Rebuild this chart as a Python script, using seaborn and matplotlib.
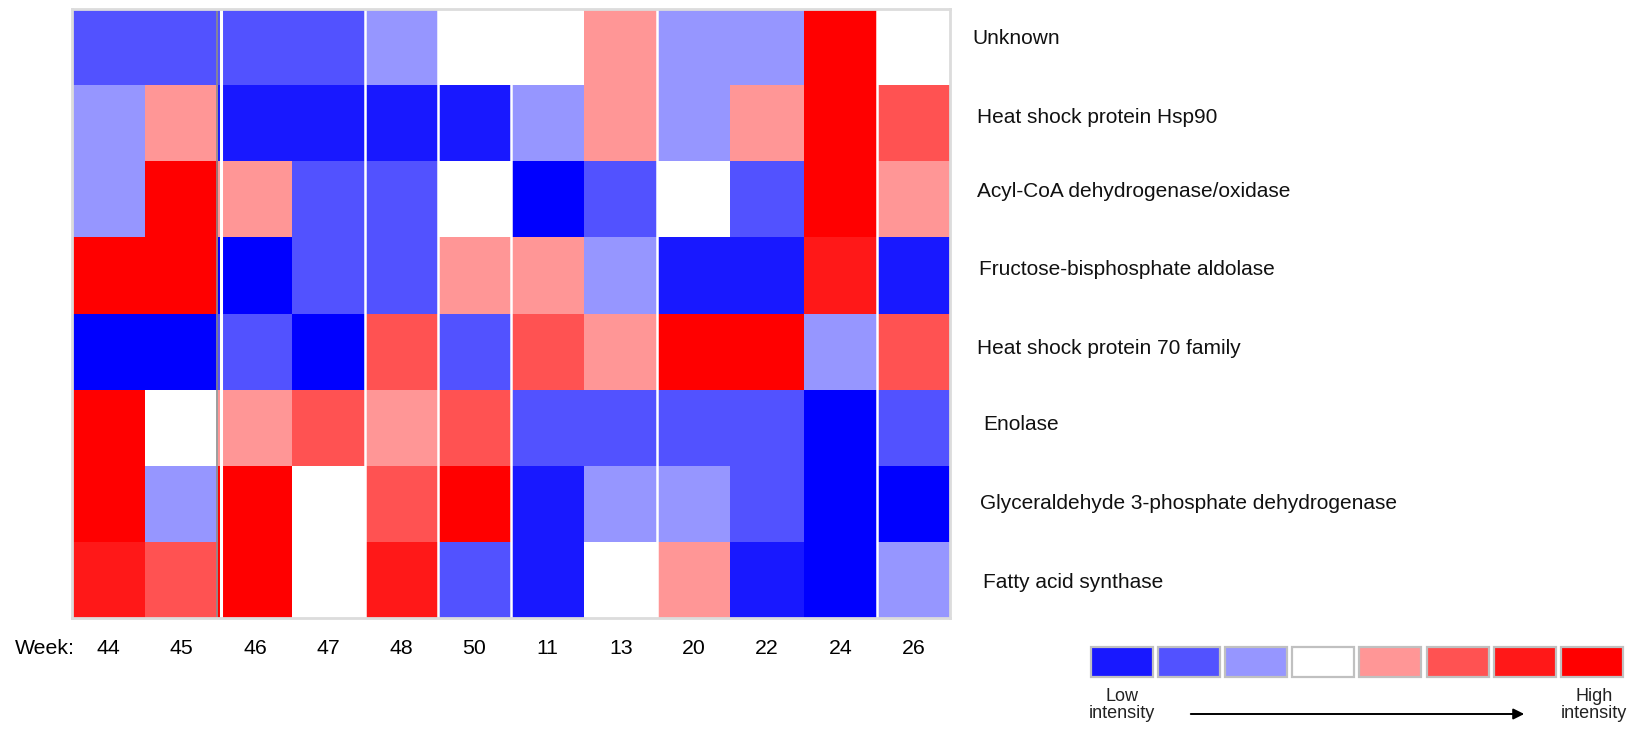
import numpy as np
import pandas as pd
import matplotlib
matplotlib.use("Agg")
import matplotlib.pyplot as plt
from matplotlib.colors import ListedColormap, BoundaryNorm
from matplotlib.patches import Rectangle, FancyArrowPatch
import seaborn as sns

# ---- data -------------------------------------------------------------
weeks = ["44", "45", "46", "47", "48", "50", "11", "13", "20", "22", "24", "26"]
proteins = [
    "Unknown",
    "Heat shock protein Hsp90",
    "Acyl-CoA dehydrogenase/oxidase",
    "Fructose-bisphosphate aldolase",
    "Heat shock protein 70 family",
    "Enolase",
    "Glyceraldehyde 3-phosphate dehydrogenase",
    "Fatty acid synthase",
]
# intensity level per protein (row) and sampling week (column), -4 (lowest) .. 4 (highest)
unknown  = [-2, -2, -2, -2, -1,  0,  0,  1, -1, -1,  4,  0]
hsp90    = [-1,  1, -3, -3, -3, -3, -1,  1, -1,  1,  4,  2]
acyl_coa = [-1,  4,  1, -2, -2,  0, -4, -2,  0, -2,  4,  1]
fba      = [ 4,  4, -4, -2, -2,  1,  1, -1, -3, -3,  3, -3]
hsp70    = [-4, -4, -2, -4,  2, -2,  2,  1,  4,  4, -1,  2]
enolase  = [ 4,  0,  1,  2,  1,  2, -2, -2, -2, -2, -4, -2]
gapdh    = [ 4, -1,  4,  0,  2,  4, -3, -1, -1, -2, -4, -4]
fas      = [ 3,  2,  4,  0,  3, -2, -3,  0,  1, -3, -4, -1]

levels = [-4, -3, -2, -1, 0, 1, 2, 3, 4]
level_colors = ["#0000FF", "#1818FF", "#5252FF", "#9696FF", "#FFFFFF",
                "#FF9696", "#FF5252", "#FF1818", "#FF0000"]
legend_levels = [-3, -2, -1, 0, 1, 2, 3, 4]
group_breaks = [2, 4, 5, 6, 8, 11]

df = pd.DataFrame([unknown, hsp90, acyl_coa, fba, hsp70, enolase, gapdh, fas],
                  index=proteins, columns=weeks)

# ---- figure ------------------------------------------------------------
W, H = 1639, 730
fig = plt.figure(figsize=(W / 100, H / 100), dpi=100)
plt.rcParams["font.family"] = ["Liberation Sans", "DejaVu Sans"]

def fx(px):
    return px / W

def fy(py):
    return 1 - py / H

hm_left, hm_right, hm_top, hm_bottom = 72, 950, 9, 618
ax = fig.add_axes([fx(hm_left), fy(hm_bottom), fx(hm_right - hm_left),
                   (hm_bottom - hm_top) / H])

cmap = ListedColormap(level_colors)
norm = BoundaryNorm(np.arange(-4.5, 5.5, 1.0), cmap.N)
sns.heatmap(df, ax=ax, cmap=cmap, norm=norm, cbar=False,
            xticklabels=False, yticklabels=False)

# white separators between sampling groups
for b in group_breaks:
    if b == 2:
        ax.axvline(b - 0.02, color="#8c8c8c", lw=1.2)
        ax.axvline(b + 0.04, color="white", lw=2.2)
    else:
        ax.axvline(b, color="white", lw=1.8)

for s in ax.spines.values():
    s.set_visible(True)
    s.set_color("#dcdcdc")
    s.set_linewidth(2)

# protein names on the right
label_x = [972, 977, 977, 979, 977, 983, 980, 983]
label_dy = [-9, -6, -8, -6, -3, -3, 0, 3]
row_h = (hm_bottom - hm_top) / len(proteins)
for i, name in enumerate(proteins):
    cy = hm_top + row_h * (i + 0.5) + label_dy[i]
    fig.text(fx(label_x[i]), fy(cy), name, ha="left", va="center",
             fontsize=15, color="#111111")

# week labels under columns
col_w = (hm_right - hm_left) / len(weeks)
fig.text(fx(15), fy(649), "Week:", ha="left", va="center", fontsize=15.3)
for j, w in enumerate(weeks):
    cx = hm_left + col_w * (j + 0.5)
    fig.text(fx(cx), fy(649), w, ha="center", va="center", fontsize=15.3)

# intensity key
sw_x0, sw_w, sw_step, sw_y, sw_h = 1091, 62, 67.1, 647, 30
for k, lv in enumerate(legend_levels):
    x0 = sw_x0 + k * sw_step
    fig.patches.append(Rectangle((fx(x0), fy(sw_y + sw_h)), fx(sw_w), sw_h / H,
                                 transform=fig.transFigure,
                                 facecolor=level_colors[levels.index(lv)],
                                 edgecolor="#c0c0c0", lw=1.6))
fig.text(fx(1122), fy(705), "Low\nintensity", ha="center", va="center",
         fontsize=13, linespacing=1.05, color="#222222")
fig.text(fx(1594), fy(705), "High\nintensity", ha="center", va="center",
         fontsize=13, linespacing=1.05, color="#222222")
fig.patches.append(FancyArrowPatch((fx(1188), fy(714)), (fx(1527), fy(714)),
                                   transform=fig.transFigure,
                                   arrowstyle="-|>", mutation_scale=16,
                                   color="black", lw=1.4))

fig.savefig("out.png", dpi=100)
